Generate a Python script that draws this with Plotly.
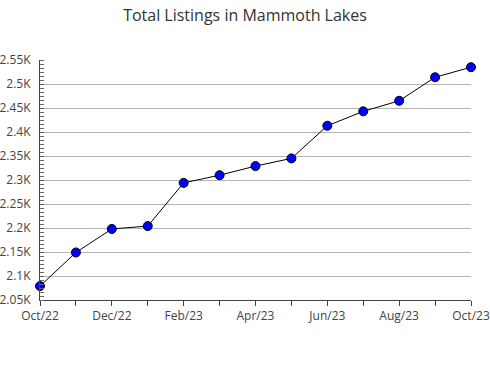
import plotly.graph_objects as go

months = ["Oct/22", "Nov/22", "Dec/22", "Jan/23", "Feb/23", "Mar/23", "Apr/23",
          "May/23", "Jun/23", "Jul/23", "Aug/23", "Sep/23", "Oct/23"]
listings = [2079, 2149, 2198, 2204, 2294, 2310, 2329, 2345, 2413, 2443, 2465, 2514, 2535]
x_labels = ["Oct/22", "", "Dec/22", "", "Feb/23", "", "Apr/23", "", "Jun/23", "", "Aug/23", "", "Oct/23"]
y_vals = [2050, 2100, 2150, 2200, 2250, 2300, 2350, 2400, 2450, 2500, 2550]
y_labels = ["2.05K", "2.1K", "2.15K", "2.2K", "2.25K", "2.3K", "2.35K", "2.4K", "2.45K", "2.5K", "2.55K"]

fig = go.Figure(go.Scatter(
    x=list(range(len(months))), y=listings, mode="lines+markers",
    line=dict(color="black", width=1),
    marker=dict(color="#0000ff", size=9, line=dict(color="black", width=1)),
    cliponaxis=False,
))

fig.update_layout(
    width=490, height=380,
    margin=dict(l=40, r=19, t=60, b=80),
    paper_bgcolor="white", plot_bgcolor="white",
    showlegend=False,
    font=dict(family="Open Sans", color="#444", size=12),
    title=dict(text="Total Listings in Mammoth Lakes", x=0.5, xanchor="center",
               y=1 - 15 / 380, yanchor="middle",
               font=dict(family="Open Sans", size=16, color="#333")),
)
fig.update_xaxes(
    range=[0, 12], tickmode="array", tickvals=list(range(13)), ticktext=x_labels,
    showgrid=False, zeroline=False, automargin=False,
    showline=True, linecolor="#444", linewidth=1,
    ticks="outside", ticklen=5, tickcolor="#444",
)
fig.update_yaxes(
    range=[2050, 2550], tickmode="array", tickvals=y_vals, ticktext=y_labels,
    showgrid=True, gridcolor="#b4b4b4", gridwidth=1, zeroline=False, automargin=False,
    showline=True, linecolor="#444", linewidth=1,
    ticks="", ticklabelstandoff=6,
    minor=dict(dtick=50 / 6, tick0=2050, ticks="inside", ticklen=4, tickcolor="#666", showgrid=False),
)

fig.write_html("out.html")
